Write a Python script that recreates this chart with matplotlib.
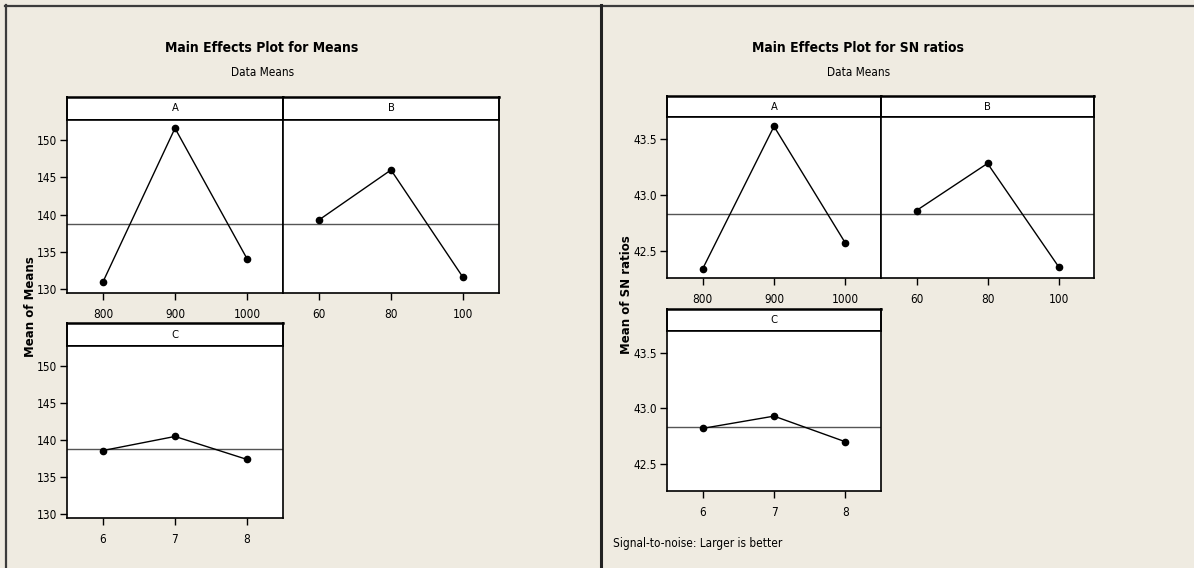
import numpy as np
import matplotlib
matplotlib.use('Agg')
import matplotlib.pyplot as plt
from matplotlib.lines import Line2D

# data
factors = ['A', 'B', 'C']
levels_A = ['800', '900', '1000']
levels_B = ['60', '80', '100']
levels_C = ['6', '7', '8']
means_A = [131.0, 151.6, 134.1]
means_B = [139.3, 146.0, 131.6]
means_C = [138.6, 140.5, 137.4]
grand_mean = 138.8
sn_A = [42.34, 43.61, 42.57]
sn_B = [42.86, 43.28, 42.36]
sn_C = [42.82, 42.93, 42.70]
grand_sn = 42.83
means_ticks = [130, 135, 140, 145, 150]
sn_ticks = [42.5, 43.0, 43.5]

W, H = 1194, 568
BG = '#efebe1'
plt.rcParams['font.family'] = ['DejaVu Sans']
plt.rcParams['font.stretch'] = 'condensed'

fig = plt.figure(figsize=(W / 100, H / 100), dpi=100, facecolor=BG)


def box(x0, y0, x1, y1):
    # pixel box (top-left origin) -> figure fraction rect
    return [x0 / W, 1 - y1 / H, (x1 - x0) / W, (y1 - y0) / H]


def panel(x0, x1, ytop, ystrip, ybot, label, levels, vals, mean, ylim, yticks, fmt, show_y):
    st = fig.add_axes(box(x0, ytop, x1, ystrip))
    st.set_facecolor('white')
    st.set_xticks([])
    st.set_yticks([])
    for s in st.spines.values():
        s.set_linewidth(1.4)
    st.spines['top'].set_linewidth(1.8)
    st.text(0.5, 0.5, label, ha='center', va='center', fontsize=8, stretch='condensed',
            transform=st.transAxes)

    ax = fig.add_axes(box(x0, ystrip, x1, ybot))
    ax.set_facecolor('white')
    x = np.arange(len(levels))
    ax.axhline(mean, color='#555555', lw=1.0, zorder=1)
    ax.plot(x, vals, '-o', color='black', lw=1.0, ms=4.5, zorder=3)
    ax.set_xlim(-0.5, len(levels) - 0.5)
    ax.set_ylim(*ylim)
    ax.set_xticks(x)
    ax.set_xticklabels(levels, fontsize=8.5, stretch='condensed')
    ax.tick_params(axis='x', direction='out', length=5, width=1, pad=6)
    if show_y:
        ax.set_yticks(yticks)
        ax.set_yticklabels([fmt.format(v) for v in yticks], fontsize=8.5, stretch='condensed')
        ax.tick_params(axis='y', direction='out', length=5, width=1, pad=2)
    else:
        ax.set_yticks([])
    for s in ax.spines.values():
        s.set_linewidth(1.2)
    return ax


# left chart: means
means_lim = (129.5, 152.7)
panel(67, 283, 97, 120, 293, 'A', levels_A, means_A, grand_mean, means_lim, means_ticks, '{:.0f}', True)
panel(283, 499, 97, 120, 293, 'B', levels_B, means_B, grand_mean, means_lim, [], '{:.0f}', False)
panel(67, 283, 323, 346, 518, 'C', levels_C, means_C, grand_mean, means_lim, means_ticks, '{:.0f}', True)

fig.text(262 / W, 1 - 48 / H, 'Main Effects Plot for Means', ha='center', va='center',
         fontsize=10, fontweight='bold', stretch='condensed')
fig.text(263 / W, 1 - 72 / H, 'Data Means', ha='center', va='center', fontsize=8.5,
         stretch='condensed')
fig.text(31 / W, 1 - 307 / H, 'Mean of Means', ha='center', va='center', rotation=90,
         fontsize=8.5, fontweight='bold', stretch='normal')

# right chart: SN ratios
sn_lim = (42.258, 43.694)
panel(667, 881, 96, 117, 278, 'A', levels_A, sn_A, grand_sn, sn_lim, sn_ticks, '{:.1f}', True)
panel(881, 1094, 96, 117, 278, 'B', levels_B, sn_B, grand_sn, sn_lim, [], '{:.1f}', False)
panel(667, 881, 309, 331, 491, 'C', levels_C, sn_C, grand_sn, sn_lim, sn_ticks, '{:.1f}', True)

fig.text(858 / W, 1 - 48 / H, 'Main Effects Plot for SN ratios', ha='center', va='center',
         fontsize=10, fontweight='bold', stretch='condensed')
fig.text(859 / W, 1 - 72 / H, 'Data Means', ha='center', va='center', fontsize=8.5,
         stretch='condensed')
fig.text(627 / W, 1 - 295 / H, 'Mean of SN ratios', ha='center', va='center', rotation=90,
         fontsize=8.5, fontweight='bold', stretch='normal')
fig.text(613 / W, 1 - 543 / H, 'Signal-to-noise: Larger is better', ha='left', va='center',
         fontsize=8.5, stretch='condensed')

# outer frame lines
fig.add_artist(Line2D([5 / W, 1], [1 - 6 / H, 1 - 6 / H], color='#3c3c3c', lw=1.6))
fig.add_artist(Line2D([6 / W, 6 / W], [0, 1 - 5 / H], color='#3c3c3c', lw=1.6))
fig.add_artist(Line2D([601 / W, 601 / W], [0, 1 - 5 / H], color='#222222', lw=2.2))

fig.savefig('out.png', dpi=100, facecolor=BG)
